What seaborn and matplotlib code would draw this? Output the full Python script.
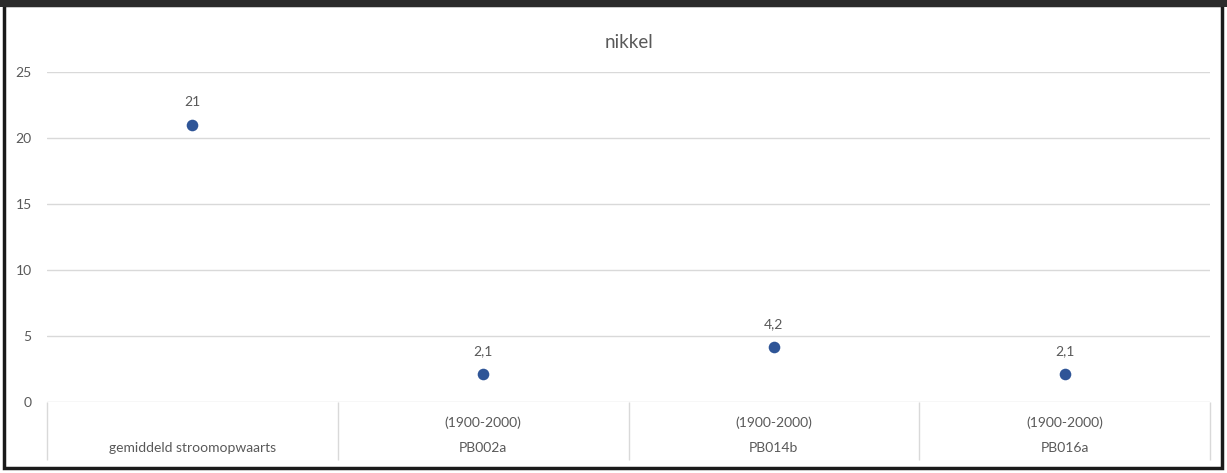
import matplotlib
matplotlib.use("Agg")
import matplotlib.pyplot as plt
import matplotlib.transforms as mtransforms
from matplotlib.patches import Rectangle
import pandas as pd
import seaborn as sns

# ========== DATA ==========
locations = ["gemiddeld stroomopwaarts", "PB002a", "PB014b", "PB016a"]
periods = ["", "(1900-2000)", "(1900-2000)", "(1900-2000)"]
nickel = [21, 2.1, 4.2, 2.1]
y_ticks = [0, 5, 10, 15, 20, 25]

df = pd.DataFrame({"pos": range(len(locations)), "value": nickel})

# ========== STYLE ==========
sns.set_theme(style="white")
plt.rcParams["font.family"] = ["Lato", "DejaVu Sans"]
text_grey = "#595959"
grid_grey = "#d9d9d9"
dot_blue = "#2f5597"

fig = plt.figure(figsize=(12.27, 4.73), dpi=100)
ax_h = 330
ax = fig.add_axes([47 / 1227, 71 / 473, (1210 - 47) / 1227, ax_h / 473])

sns.scatterplot(data=df, x="pos", y="value", ax=ax, color=dot_blue,
                s=70, edgecolor=dot_blue, linewidth=0, zorder=3)

# data labels, dutch decimal comma
for x, v in zip(df["pos"], df["value"]):
    label = f"{v:g}".replace(".", ",")
    ax.annotate(label, (x, v), xytext=(0, 12), textcoords="offset points",
                ha="center", va="bottom", fontsize=10, color=text_grey)

ax.set_xlim(-0.5, len(locations) - 0.5)
ax.set_ylim(0, 25)
ax.set_yticks(y_ticks)
ax.yaxis.grid(True, color=grid_grey, linewidth=1)
ax.xaxis.grid(False)
for s in ax.spines.values():
    s.set_visible(False)
ax.tick_params(axis="y", length=0, pad=11, labelsize=10, labelcolor=text_grey)
ax.set_xticks([])
ax.set_xlabel("")
ax.set_ylabel("")

# multi-level category axis
trans = mtransforms.blended_transform_factory(ax.transData, ax.transAxes)
for x, p, n in zip(df["pos"], periods, locations):
    ax.text(x, -21 / ax_h, p, transform=trans, ha="center", va="center",
            fontsize=10, color=text_grey)
    ax.text(x, -46 / ax_h, n, transform=trans, ha="center", va="center",
            fontsize=10, color=text_grey)
bounds = [i - 0.5 for i in range(len(locations) + 1)]
ax.vlines(bounds, -58 / ax_h, 0, transform=trans, color=grid_grey,
          linewidth=1, clip_on=False)

ax.set_title("nikkel", fontsize=13.5, color=text_grey, pad=17)

# dark frame around the chart
fig.patches.append(Rectangle((4 / 1227, 5 / 473), 1218 / 1227, 463 / 473,
                             transform=fig.transFigure, fill=False,
                             edgecolor="#1a1a1a", linewidth=2.5))
fig.patches.append(Rectangle((0, 466 / 473), 1, 7 / 473,
                             transform=fig.transFigure, fill=True,
                             facecolor="#2b2b2b", edgecolor="none"))

fig.savefig("out.png", dpi=100)
